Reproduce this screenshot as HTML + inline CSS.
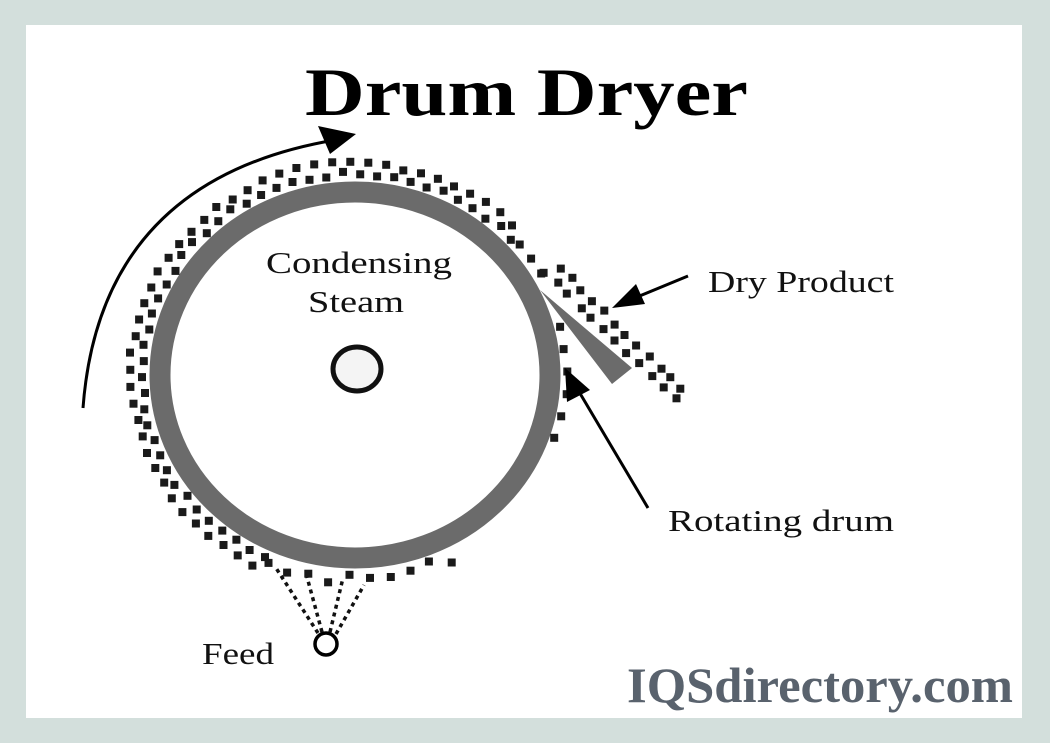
<!DOCTYPE html>
<html><head><meta charset="utf-8"><style>
html,body{margin:0;padding:0;background:#d3dfdc;}
svg{display:block;}
</style></head><body>
<svg id="s" width="1050" height="743" viewBox="0 0 1050 743" xmlns="http://www.w3.org/2000/svg">
<rect x="0" y="0" width="1050" height="743" fill="#d3dfdc"/>
<rect x="26" y="25" width="996" height="693" fill="#ffffff"/>
<text x="305" y="115" font-family="Liberation Serif, serif" font-weight="bold" font-size="68" textLength="443" lengthAdjust="spacingAndGlyphs" fill="#000">Drum Dryer</text>
<ellipse cx="355" cy="375" rx="195" ry="183" fill="none" stroke="#6b6b6b" stroke-width="21"/>
<polygon points="540,290 632,368 612,384" fill="#6b6b6b"/>
<ellipse cx="357" cy="369" rx="24" ry="22" fill="#f4f4f4" stroke="#111" stroke-width="5"/>
<g id="dots" fill="#1a1a1a"></g>
<path d="M83,408 Q100,180 335,140" fill="none" stroke="#000" stroke-width="3"/>
<polygon points="356,134 318,126 330,154" fill="#000"/>
<line x1="688" y1="276" x2="630" y2="300" stroke="#000" stroke-width="3"/>
<polygon points="612,308 636,284 645,304" fill="#000"/>
<line x1="648" y1="508" x2="578" y2="390" stroke="#000" stroke-width="3"/>
<polygon points="565,368 567,402 590,390" fill="#000"/>
<g stroke="#111" stroke-width="3.5" stroke-dasharray="4,4" fill="none">
<line x1="318" y1="633" x2="276" y2="568"/>
<line x1="322" y1="632" x2="307" y2="577"/>
<line x1="330" y1="632" x2="343" y2="578"/>
<line x1="336" y1="634" x2="364" y2="585"/>
</g>
<circle cx="326" cy="644" r="11" fill="#fff" stroke="#000" stroke-width="3.5"/>
<g font-family="Liberation Serif, serif" font-size="31" fill="#111">
<text x="266" y="273" textLength="186" lengthAdjust="spacingAndGlyphs">Condensing</text>
<text x="308" y="312" textLength="96" lengthAdjust="spacingAndGlyphs">Steam</text>
<text x="708" y="292" textLength="186" lengthAdjust="spacingAndGlyphs">Dry Product</text>
<text x="668" y="531" textLength="226" lengthAdjust="spacingAndGlyphs">Rotating drum</text>
<text x="202" y="664" textLength="72" lengthAdjust="spacingAndGlyphs">Feed</text>
</g>
<text x="627" y="702" font-family="Liberation Serif, serif" font-weight="bold" font-size="50" fill="#59626d" textLength="386" lengthAdjust="spacingAndGlyphs">IQSdirectory.com</text>
</svg>
<script>
(function(){
var g=document.getElementById('dots'),ns='http://www.w3.org/2000/svg';
function sq(x,y){var r=document.createElementNS(ns,'rect');r.setAttribute('x',(x-4).toFixed(1));r.setAttribute('y',(y-4).toFixed(1));r.setAttribute('width',8);r.setAttribute('height',8);g.appendChild(r);}
var cx=355,cy=375,seed=7;function rnd(){seed=(seed*9301+49297)%233280;return seed/233280;}
function pt(a,d){var t=a*Math.PI/180;sq(cx+(205+d)*Math.cos(t),cy+(193+d)*Math.sin(t));}
for(var row=0;row<2;row++){
 var off=row==0?8:19;
 for(var a=115+row*2;a<=318;a+=4.6){pt(a,off+(rnd()-0.5)*5);}
}
for(var a=64;a<115;a+=5.5){pt(a,6+rnd()*10);}
for(var a=-14;a<22;a+=6.5){pt(a,5+rnd()*3);}
for(var a=320;a<=330;a+=5){pt(a,10);}
for(var i=0;i<=11;i++){var f=i/11;sq(545+f*130+(rnd()-0.5)*4,272+f*128+(rnd()-0.5)*4);sq(560+f*122+(rnd()-0.5)*4,268+f*122+(rnd()-0.5)*4);}
})();
</script>
</body></html>
